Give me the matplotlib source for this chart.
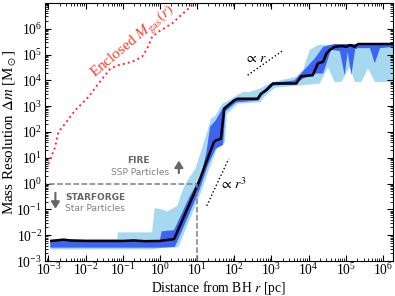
import numpy as np
import matplotlib
matplotlib.use("Agg")
import matplotlib.pyplot as plt
from matplotlib.ticker import LogLocator, NullFormatter

plt.rcParams['font.family'] = ['Liberation Serif', 'DejaVu Serif']
plt.rcParams['mathtext.fontset'] = 'stix'

# values are log10 of r [pc] and log10 of dm [Msun]
# median resolution (black line)
line_r = [-2.92, -2.6, -2.4, -2.0, -1.0, -0.7, -0.4, 0.0, 0.38, 1.01, 1.28, 1.45,
          1.5, 1.64, 1.73, 2.0, 2.09, 2.63, 2.72, 2.86, 3.04, 3.67, 3.8, 4.11,
          4.25, 4.39, 4.48, 4.57, 4.70, 4.88, 5.02, 5.11, 5.24, 5.33, 6.3]
line_m = [-2.22, -2.17, -2.2, -2.22, -2.22, -2.2, -2.23, -2.22, -2.15, -0.08, 0.96, 1.6,
          1.67, 1.74, 2.91, 3.23, 3.29, 3.29, 3.49, 3.62, 3.88, 3.88, 4.16, 4.2,
          4.66, 4.72, 5.05, 5.18, 5.30, 5.33, 5.30, 5.37, 5.30, 5.41, 5.41]

# outer band (light blue)
light_top_r = [-2.95, -1.15, -1.12, -0.21, -0.14, 0.06, 0.2, 0.33, 0.47, 0.6, 0.74, 0.96,
               1.14, 1.28, 1.37, 1.50, 1.68, 1.86, 2.0, 2.22, 2.41, 2.68, 2.86, 3.04,
               3.67, 3.85, 4.03, 4.25, 6.3]
light_top_m = [-2.15, -2.15, -1.89, -1.89, -0.95, -1.0, -1.08, -0.97, -0.86, -0.3, 0.12, 0.6,
               1.41, 2.06, 2.52, 2.65, 3.10, 3.23, 3.36, 3.55, 3.55, 3.68, 3.81, 3.94,
               4.14, 4.40, 5.18, 5.37, 5.44]
light_bot_r = [-2.95, -0.2, 0.0, 0.42, 0.5, 1.1, 1.35, 1.55, 1.75, 1.8, 2.1, 2.7, 2.8,
               3.1, 3.6, 4.3, 4.52, 4.70, 4.88, 5.11, 5.24, 5.42, 5.60, 5.78, 6.3]
light_bot_m = [-2.55, -2.55, -2.5, -2.48, -2.45, -0.35, 0.65, 1.4, 1.6, 2.7, 3.1, 3.15, 3.35,
               3.72, 3.78, 3.88, 4.5, 3.94, 3.94, 4.52, 3.94, 3.94, 4.46, 3.94, 3.94]

# inner band (dark blue)
dark_top_r = [-2.95, 0.0, 0.05, 0.38, 0.8, 1.1, 1.25, 1.35, 1.5, 1.7, 2.0, 2.6, 2.72,
              3.0, 3.62, 4.16, 4.39, 4.70, 6.3]
dark_top_m = [-2.19, -2.19, -1.85, -1.8, -0.5, 0.3, 1.2, 2.2, 2.45, 2.95, 3.27, 3.33, 3.52,
              3.9, 4.0, 4.84, 5.30, 5.41, 5.41]
dark_bot_r = [-2.95, 0.0, 0.4, 0.45, 1.05, 1.3, 1.5, 1.7, 1.76, 2.05, 2.65, 2.75, 3.05,
              3.62, 3.85, 4.21, 4.39, 4.6, 4.84, 4.97, 5.05, 5.15, 5.25, 5.33, 5.65,
              5.78, 5.92, 6.3]
dark_bot_m = [-2.48, -2.48, -2.45, -2.3, -0.3, 0.75, 1.35, 1.5, 2.8, 3.15, 3.22, 3.42, 3.8,
              3.85, 4.07, 4.27, 4.27, 5.18, 5.14, 4.20, 5.11, 4.2, 5.2, 5.25, 5.25,
              4.66, 5.25, 5.3]

# enclosed gas mass
gas_r = [-3.0, -2.82, -2.73, -2.55, -2.28, -1.92, -1.65, -1.33, -1.11, -0.75, -0.48,
         -0.34, -0.21, -0.03, 0.33, 0.78, 0.92, 1.1]
gas_m = [0.77, 1.41, 2.0, 2.32, 2.84, 3.36, 3.88, 4.46, 4.59, 4.72, 4.91,
         5.24, 5.69, 5.89, 6.21, 6.80, 6.99, 7.4]

# guide slopes
slope1_r = [2.36, 3.33]
slope1_m = [4.20, 5.18]
slope3_r = [1.26, 1.85]
slope3_m = [-0.86, 0.96]


def p(a):
    return 10.0 ** np.array(a)


fig = plt.figure(figsize=(3.95, 2.96), dpi=100)
ax = fig.add_axes([0.113, 0.118, 0.882, 0.872])

ax.fill(np.r_[p(light_top_r), p(light_bot_r)[::-1]],
        np.r_[p(light_top_m), p(light_bot_m)[::-1]], color='#a6d9f0', lw=0)
ax.fill(np.r_[p(dark_top_r), p(dark_bot_r)[::-1]],
        np.r_[p(dark_top_m), p(dark_bot_m)[::-1]], color='#3d63f2', lw=0)
ax.plot(p(line_r), p(line_m), color='k', lw=1.8)

ax.plot(p(gas_r), p(gas_m), color='#ff2a2a', ls=':', lw=1.4)
ax.text(10**-0.72, 10**5.5, r'Enclosed $M_{\rm gas}(r)$', color='#ff3b2a',
        fontsize=11, rotation=40, ha='center', va='center')

ax.plot(p(slope1_r), p(slope1_m), color='k', ls=':', lw=1.0)
ax.text(10**2.57, 10**4.86, r'$\propto\,r$', fontsize=10, ha='center', va='center')
ax.plot(p(slope3_r), p(slope3_m), color='k', ls=':', lw=1.0)
ax.text(10**1.97, 10**0.0, r'$\propto\,r^3$', fontsize=10, ha='center', va='center')

# resolution threshold
ax.plot([10**-3.2, 10], [1, 1], color='0.5', ls='--', lw=1.1)
ax.plot([10, 10], [1e-3, 1], color='0.5', ls='--', lw=1.1)

sans = ['DejaVu Sans']
ax.text(10**-0.57, 10**0.89, 'FIRE', family=sans, fontsize=6.5, weight='bold',
        color='0.4', ha='center', va='center')
ax.text(10**-0.54, 10**0.43, 'SSP Particles', family=sans, fontsize=6.5,
        color='0.5', ha='center', va='center')
ax.annotate('', xy=(10**0.51, 10**1.0), xytext=(10**0.51, 10**0.3),
            arrowprops=dict(arrowstyle='-|>,head_width=0.25,head_length=0.4',
                            color='0.4', lw=1.5))
ax.text(10**-2.54, 10**-0.54, 'STARFORGE', family=sans, fontsize=6.5, weight='bold',
        color='0.4', ha='left', va='center')
ax.text(10**-2.54, 10**-0.97, 'Star Particles', family=sans, fontsize=6.5,
        color='0.5', ha='left', va='center')
ax.annotate('', xy=(10**-2.81, 10**-1.08), xytext=(10**-2.81, 10**-0.25),
            arrowprops=dict(arrowstyle='-|>,head_width=0.25,head_length=0.4',
                            color='0.4', lw=1.5))

ax.set_xscale('log')
ax.set_yscale('log')
ax.set_xlim(10**-3.1, 10**6.27)
ax.set_ylim(1e-3, 1e7)
ax.set_xticks([10.0**k for k in range(-3, 7)])
ax.set_yticks([10.0**k for k in range(-3, 7)])
for axis in (ax.xaxis, ax.yaxis):
    axis.set_minor_locator(LogLocator(base=10, subs=np.arange(2, 10), numticks=30))
    axis.set_minor_formatter(NullFormatter())
ax.tick_params(which='both', direction='in', top=True, right=True, labelsize=9.8)
ax.tick_params(which='major', length=4, width=0.8, pad=2)
ax.tick_params(axis='x', which='major', pad=1)
ax.tick_params(which='minor', length=2, width=0.6)
ax.set_xlabel(r'Distance from BH $r$ [pc]', fontsize=9.8)
ax.set_ylabel(r'Mass Resolution $\Delta m$ [M$_\odot$]', fontsize=10.8)
ax.xaxis.set_label_coords(0.5, -0.103)
ax.xaxis.label.set_va('center')
ax.yaxis.set_label_coords(-0.102, 0.5)
ax.yaxis.label.set_va('center')

fig.savefig('out.png', dpi=100)
